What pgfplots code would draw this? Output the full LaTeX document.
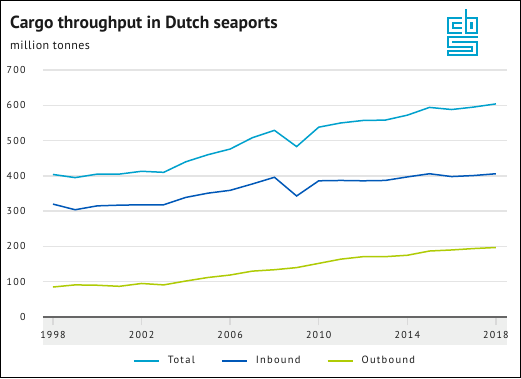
\documentclass[border=0pt]{standalone}
\usepackage{fontspec}
\setmainfont{PT Sans}
\newfontfamily\spaced[LetterSpace=12]{PT Sans}
\newfontfamily\lspaced[LetterSpace=4]{PT Sans}
\usepackage{pgfplots}
\pgfplotsset{compat=1.18}
\definecolor{cbslight}{HTML}{00A1CD}
\definecolor{cbsdark}{HTML}{0058B8}
\definecolor{cbslime}{HTML}{AFCB05}
\definecolor{gridgray}{HTML}{E4E4E4}
\definecolor{bandgray}{HTML}{EEEFEE}
\definecolor{axisgray}{HTML}{666666}
\definecolor{txt}{HTML}{1A1A1A}

\pgfplotstableread{
year total inbound outbound
1998 404 320 85
1999 395 304 91
2000 405 315 90
2001 405 317 87
2002 413 318 95
2003 410 318 91
2004 440 339 102
2005 460 351 112
2006 476 359 119
2007 508 377 130
2008 529 396 134
2009 483 343 140
2010 538 386 152
2011 550 387 164
2012 557 386 171
2013 558 387 171
2014 572 397 175
2015 594 406 187
2016 588 398 190
2017 595 401 194
2018 604 406 197
}\cargo

\begin{document}
\begin{tikzpicture}[x=1pt,y=1pt]
\useasboundingbox (-43,-61) rectangle (478,317);
\fill[white] (-43,-61) rectangle (478,317);
\fill[bandgray] (0,0) rectangle (464,-28);
\begin{axis}[
  at={(0,0)}, anchor=south west,
  scale only axis, width=464pt, height=247pt,
  xmin=1997.55, xmax=2018.5, ymin=0, ymax=700,
  axis x line*=bottom, axis y line*=left,
  y axis line style={draw=none},
  x axis line style={draw=axisgray, line width=2pt, -},
  ytick={0,100,...,700},
  xtick={1998,2002,...,2018},
  ymajorgrids, grid style={draw=gridgray, line width=1.5pt},
  ytick style={draw=none},
  xtick style={draw=gray!30, line width=1.5pt},
  tick align=outside, major tick length=8pt,
  xticklabel style={font=\spaced\fontsize{10}{12}\selectfont, text=txt, yshift=-3pt},
  yticklabel style={font=\spaced\fontsize{10}{12}\selectfont, text=txt, xshift=-6pt},
  /pgf/number format/assume math mode=true,
  /pgf/number format/1000 sep={},
  legend style={at={(0.5,-0.178)}, anchor=center, draw=none, fill=none,
    font=\spaced\fontsize{10.5}{12}\selectfont, text=txt,
    legend columns=3,
    /tikz/every odd column/.append style={column sep=6pt},
    /tikz/every even column/.append style={column sep=24pt}},
  legend image code/.code={\draw[#1, line width=2pt] (0pt,0pt) -- (25pt,0pt);},
  clip=false,
]
\addplot[cbslight, line width=1.5pt] table[x=year, y=total] {\cargo};
\addlegendentry{Total}
\addplot[cbsdark, line width=1.5pt] table[x=year, y=inbound] {\cargo};
\addlegendentry{Inbound}
\addplot[cbslime, line width=1.5pt] table[x=year, y=outbound] {\cargo};
\addlegendentry{Outbound}
\end{axis}
\begin{scope}[shift={(-43,317)}, yscale=-1]
  \node[anchor=base west, inner sep=0pt, text=txt] at (10,28.3) {\fontsize{17.5}{20}\selectfont\bfseries Cargo throughput in Dutch seaports};
  \node[anchor=base west, inner sep=0pt, text=txt] at (10,49.5) {\lspaced\fontsize{12}{14}\selectfont million tonnes};
  \begin{scope}[draw=cbslight, line width=1.8pt, line cap=rect]
    % c
    \draw (461,18) -- (448,18) -- (448,33) -- (461,33);
    \draw (461,23) -- (453,23) -- (453,28) -- (461,28);
    % b
    \draw (466,10) -- (466,33) -- (477,33) -- (477,18) -- (466,18);
    \draw (471,23) rectangle (472.5,28);
    % s
    \draw (477,37) -- (448,37) -- (448,47) -- (472,47) -- (472,51) -- (448,51) -- (448,55) -- (477,55) -- (477,42) -- (453,42);
  \end{scope}
  \draw[line width=1pt, black] (0.5,0.5) rectangle (520.5,377.5);
\end{scope}
\end{tikzpicture}
\end{document}
